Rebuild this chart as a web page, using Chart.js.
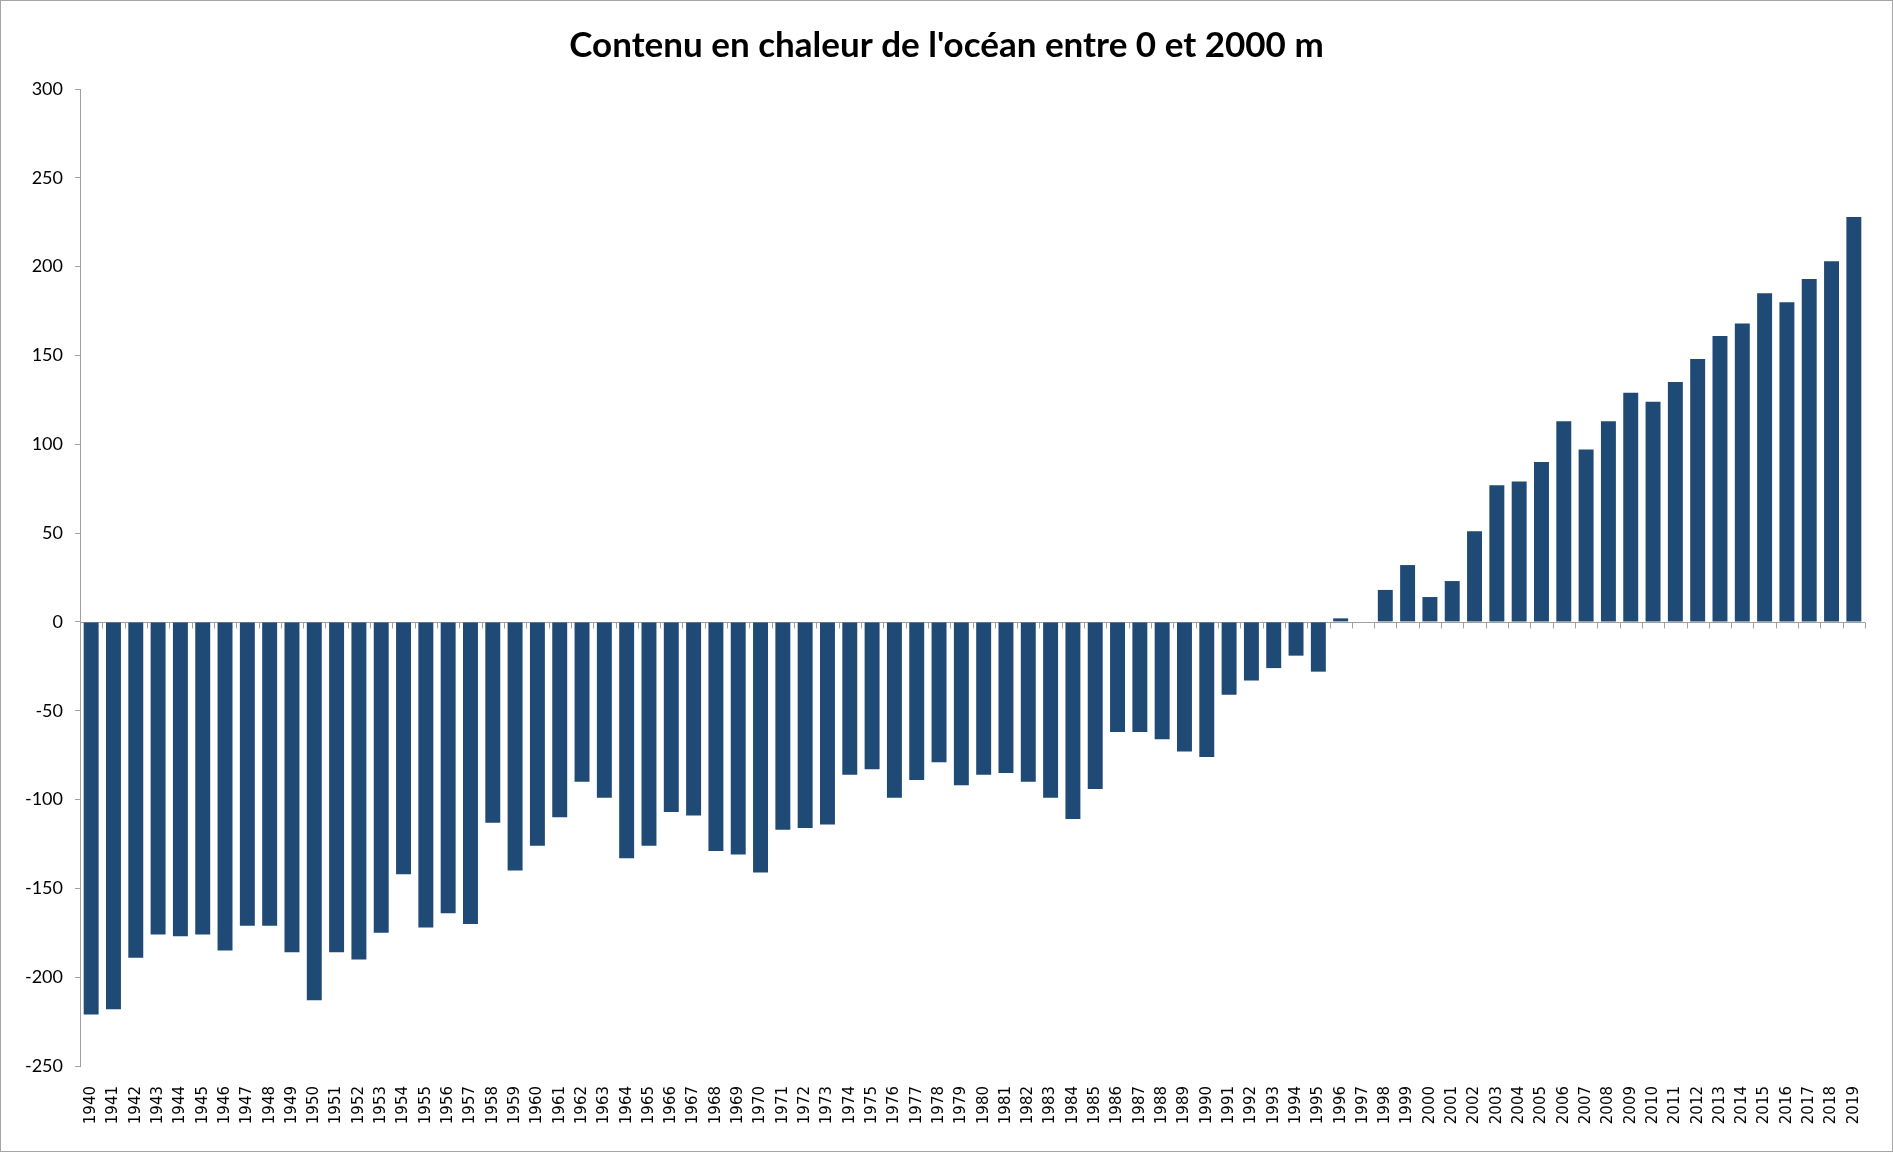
<!DOCTYPE html>
<html>
<head>
<meta charset="utf-8">
<script src="https://cdn.jsdelivr.net/npm/chart.js@4/dist/chart.umd.min.js"></script>
<style>
  html, body { margin: 0; padding: 0; background: #fff; }
  #wrap { width: 1893px; height: 1152px; box-sizing: border-box; border: 1px solid #a6a6a6; }
  canvas { display: block; }
</style>
</head>
<body>
<div id="wrap"><canvas id="oceanChart" width="1891" height="1150"></canvas></div>
<script>
// ====== Données ======
const annees = [
    '1940','1941','1942','1943','1944','1945','1946','1947','1948','1949',
    '1950','1951','1952','1953','1954','1955','1956','1957','1958','1959',
    '1960','1961','1962','1963','1964','1965','1966','1967','1968','1969',
    '1970','1971','1972','1973','1974','1975','1976','1977','1978','1979',
    '1980','1981','1982','1983','1984','1985','1986','1987','1988','1989',
    '1990','1991','1992','1993','1994','1995','1996','1997','1998','1999',
    '2000','2001','2002','2003','2004','2005','2006','2007','2008','2009',
    '2010','2011','2012','2013','2014','2015','2016','2017','2018','2019'
];

const contenuChaleur = [
    -221, -218, -189, -176, -177, -176, -185, -171, -171, -186,
    -213, -186, -190, -175, -142, -172, -164, -170, -113, -140,
    -126, -110,  -90,  -99, -133, -126, -107, -109, -129, -131,
    -141, -117, -116, -114,  -86,  -83,  -99,  -89,  -79,  -92,
     -86,  -85,  -90,  -99, -111,  -94,  -62,  -62,  -66,  -73,
     -76,  -41,  -33,  -26,  -19,  -28,    2,    0,   18,   32,
      14,   23,   51,   77,   79,   90,  113,   97,  113,  129,
     124,  135,  148,  161,  168,  185,  180,  193,  203,  228
];

const yMin = -250;
const yMax = 300;
const yPas = 50;

const titre = "Contenu en chaleur de l'océan entre 0 et 2000 m";

// ====== Ligne du zéro + graduations (style Excel) ======
const axeZero = {
    id: 'axeZero',
    beforeDatasetsDraw(chart) {
        const { ctx, chartArea, scales } = chart;
        const y0 = Math.round(scales.y.getPixelForValue(0)) + 0.5;
        const n = chart.data.labels.length;
        const pas = (chartArea.right - chartArea.left) / n;
        ctx.save();
        ctx.strokeStyle = '#a0a0a0';
        ctx.lineWidth = 1;
        ctx.beginPath();
        ctx.moveTo(chartArea.left, y0);
        ctx.lineTo(chartArea.right, y0);
        for (let i = 0; i <= n; i++) {
            const x = Math.round(chartArea.left + i * pas) + 0.5;
            ctx.moveTo(x, y0);
            ctx.lineTo(x, y0 + 6);
        }
        ctx.stroke();
        ctx.restore();
    }
};

const ctxOcean = document.getElementById('oceanChart').getContext('2d');
const oceanChart = new Chart(ctxOcean, {
    type: 'bar',
    data: {
        labels: annees,
        datasets: [{
            label: 'Contenu en chaleur',
            data: contenuChaleur,
            backgroundColor: '#1f4a76',
            borderWidth: 0,
            barPercentage: 0.67,
            categoryPercentage: 1.0
        }]
    },
    options: {
        responsive: false,
        animation: false,
        layout: { padding: { left: 23, right: 23, top: 0, bottom: 0 } },
        plugins: {
            legend: { display: false },
            tooltip: { enabled: false },
            title: {
                display: true,
                text: titre,
                color: '#000',
                font: { family: 'Lato', size: 35, weight: 'bold' },
                padding: { top: 24, bottom: 22 }
            }
        },
        scales: {
            x: {
                grid: { display: false, drawTicks: false },
                border: { display: false },
                ticks: {
                    autoSkip: false,
                    maxRotation: 90,
                    minRotation: 90,
                    padding: 20,
                    color: '#000',
                    font: { family: 'DejaVu Sans', size: 15 }
                },
                afterFit: s => { s.height = 85; }
            },
            y: {
                min: yMin,
                max: yMax,
                grid: {
                    drawOnChartArea: false,
                    drawTicks: true,
                    tickLength: 5,
                    color: '#a0a0a0'
                },
                border: { display: true, color: '#a0a0a0' },
                ticks: {
                    stepSize: yPas,
                    padding: 12,
                    color: '#000',
                    font: { family: 'Lato', size: 18 }
                },
                afterFit: s => { s.width = 56; }
            }
        }
    },
    plugins: [axeZero]
});
</script>
</body>
</html>
